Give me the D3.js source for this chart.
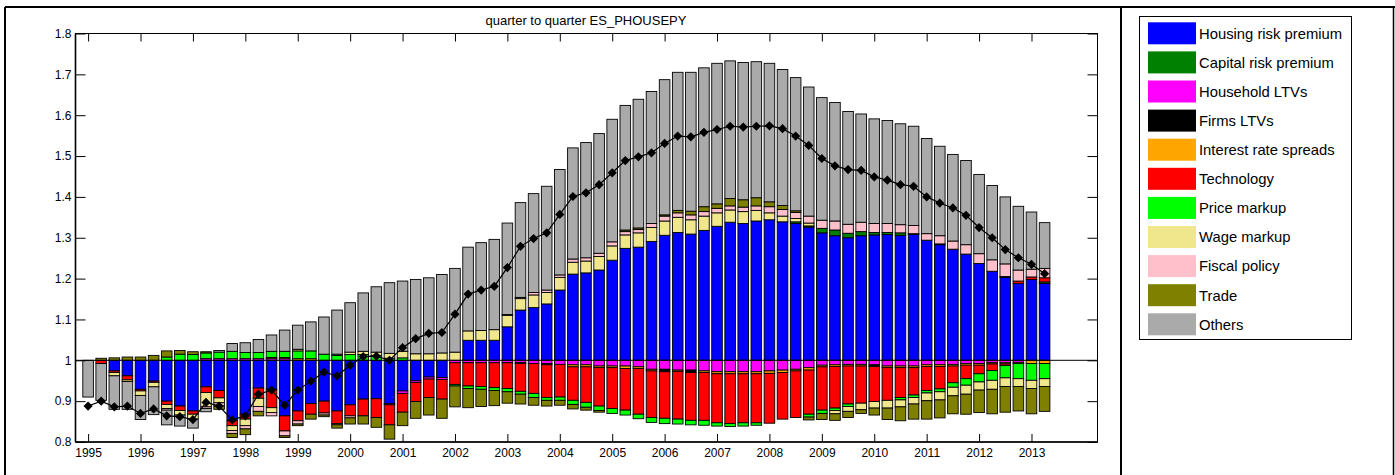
<!DOCTYPE html>
<html>
<head>
<meta charset="utf-8">
<script src="https://cdn.jsdelivr.net/npm/d3@7"></script>
<style>
  html, body { margin: 0; padding: 0; background: #fff; }
  svg { display: block; font-family: "Liberation Sans", Arial, sans-serif; }
</style>
</head>
<body>
<svg id="chart" width="1395" height="475"></svg>
<script>
// ---------------- DATA ----------------
const title = "quarter to quarter ES_PHOUSEPY";
const yearLabels = [1995,1996,1997,1998,1999,2000,2001,2002,2003,2004,2005,2006,2007,2008,2009,2010,2011,2012,2013];
const yTicks = [0.8,0.9,1,1.1,1.2,1.3,1.4,1.5,1.6,1.7,1.8];
const seriesNames = ["Housing risk premium","Capital risk premium","Household LTVs","Firms LTVs","Interest rate spreads","Technology","Price markup","Wage markup","Fiscal policy","Trade","Others"];
const seriesColors = ["#0000FF","#008000","#FF00FF","#000000","#FFA500","#FF0000","#00FF00","#F0E68C","#FFC0CB","#808000","#AAAAAA"];

// quarters 1995Q1 .. 2013Q2 (74), contributions relative to 1
const housing = [0,0,-.026,-.038,-.071,-.051,-.1,-.112,-.124,-.065,-.074,-.148,-.132,-.068,-.071,-.136,-.124,-.106,-.1,-.124,-.109,-.095,-.094,-.106,-.075,-.05,-.041,-.042,0,.049,.049,.049,.082,.123,.129,.138,.172,.211,.214,.221,.245,.274,.277,.291,.306,.313,.309,.318,.328,.338,.335,.341,.344,.339,.335,.326,.312,.305,.300,.305,.307,.308,.306,.308,.294,.283,.272,.260,.237,.218,.203,.188,.198,.188];
const capital = [0,0,0,0,0,0,0,0,0,0,0,0,0,0,0,0,0,0,0,0,0,0,0,0,0,0,0,0,0,0,0,0,0,0,0,0,0,0,0,0,0,0,0,0,0,0,0,0,0,0,0,0,0,0,.004,.003,.011,.014,.011,.010,.006,.005,.006,.002,0,0,0,0,0,0,0,0,0,.004];
const household = [0,0,0,0,0,0,0,0,0,.004,.004,.004,.004,.004,.004,.004,0,0,0,0,0,0,0,-.003,-.006,-.004,-.005,-.005,-.006,-.006,-.006,-.006,-.006,-.006,-.008,-.008,-.01,-.011,-.011,-.014,-.014,-.014,-.016,-.022,-.022,-.024,-.024,-.026,-.028,-.028,-.028,-.028,-.026,-.024,-.022,-.018,-.012,-.011,-.01,-.01,-.011,-.014,-.014,-.014,-.011,-.011,-.01,-.008,-.008,-.006,-.006,-.005,0,0];
const firms = [0,0,0,0,0,0,0,0,0,0,0,0,0,0,0,0,0,0,0,0,0,0,0,0,0,0,0,0,0,0,0,0,0,-.002,0,-.003,0,0,0,0,0,0,0,0,-.006,0,-.006,0,0,0,0,0,0,0,0,0,0,0,0,0,-.004,0,0,0,0,.002,0,0,0,0,.002,0,0,0];
const spreads = [0,0,0,0,0,0,0,0,0,0,0,0,0,0,.003,.003,.004,.004,0,0,0,0,0,0,0,0,0,0,0,0,0,0,0,0,0,0,0,-.005,-.005,-.004,-.004,-.006,-.004,-.004,0,-.003,0,-.004,-.005,-.005,-.005,-.005,-.006,-.006,-.004,-.006,-.004,-.004,-.004,-.004,0,-.004,-.004,-.004,-.004,-.004,-.004,-.004,-.004,-.003,-.003,-.003,-.008,-.008];
const technology = [0,-.008,-.004,-.01,-.004,-.003,-.008,-.011,-.008,-.014,-.018,-.012,-.012,-.025,-.045,-.037,-.024,-.026,-.029,-.031,-.027,-.041,-.046,-.049,-.046,-.047,-.045,-.048,-.053,-.057,-.058,-.061,-.063,-.068,-.073,-.08,-.08,-.082,-.087,-.094,-.1,-.102,-.112,-.114,-.114,-.117,-.117,-.117,-.12,-.122,-.12,-.12,-.122,-.114,-.114,-.108,-.106,-.102,-.093,-.091,-.086,-.08,-.073,-.067,-.059,-.055,-.041,-.033,-.021,-.016,-.004,.006,.006,.01];
const priceMarkup = [0,0,0,0,0,0,.008,.015,.014,.014,.016,.018,.015,.015,.015,.015,.019,.019,.015,.012,.014,.014,.012,.005,.006,0,0,0,-.004,-.006,-.007,-.007,-.008,-.007,-.01,-.007,-.008,-.01,-.012,-.011,-.012,-.012,-.011,-.012,-.013,-.012,-.011,-.012,-.008,-.007,-.008,-.006,0,0,0,-.007,-.008,-.006,-.006,0,0,0,-.006,-.006,-.006,-.007,-.011,-.016,-.02,-.024,-.03,-.037,-.041,-.037];
const wageMarkup = [0,0,-.008,-.004,-.011,-.011,-.01,-.011,-.012,-.035,-.012,-.012,-.016,-.02,-.012,0,.004,0,0,.003,.006,.008,.008,.012,.016,.016,.016,.018,.02,.023,.024,.026,.028,.028,.031,.028,.031,.029,.029,.033,.035,.033,.035,.034,.035,.037,.035,.035,.033,.030,.029,.026,.017,.014,.008,.007,0,-.008,-.012,-.016,-.016,-.019,-.017,-.016,-.019,-.02,-.021,-.022,-.02,-.022,-.021,-.019,-.02,-.019];
const fiscal = [0,0,0,0,0,0,-.004,0,0,-.004,-.008,-.007,-.008,-.012,-.008,-.012,-.008,0,-.005,-.003,-.005,0,0,0,0,0,0,0,0,0,0,0,.002,.003,.006,.006,.006,.008,.008,.008,.01,.008,.008,.01,.012,.011,.012,.011,.011,.01,.011,.011,.015,.016,.015,.017,.02,.022,.022,.023,.022,.022,.02,.02,.016,.02,.02,.023,.024,.028,.031,.027,.019,.023];
const trade = [0,.005,.006,.008,.008,.012,.015,.009,.007,.003,-.008,-.01,-.014,-.011,0,-.004,-.004,-.012,-.004,-.008,-.015,-.02,-.024,-.035,-.033,-.041,-.043,-.047,-.051,-.047,-.042,-.037,-.028,-.024,-.019,-.014,-.012,-.011,-.007,-.004,0,.004,.004,0,.003,.006,.009,.012,.011,.018,.018,.020,.012,.010,.004,-.007,-.015,-.016,-.015,-.009,-.017,-.028,-.034,-.037,-.045,-.044,-.044,-.049,-.055,-.06,-.063,-.06,-.062,-.061];
const others = [-.09,-.09,-.082,-.068,-.059,-.068,-.036,-.027,-.022,-.008,.004,.019,.024,.032,.040,.052,.059,.071,.091,.108,.121,.143,.160,.173,.172,.182,.186,.192,.205,.205,.215,.221,.224,.232,.242,.254,.258,.272,.282,.293,.300,.305,.315,.323,.331,.338,.340,.340,.344,.337,.336,.333,.339,.333,.326,.316,.300,.290,.276,.265,.256,.252,.247,.243,.233,.219,.212,.206,.194,.182,.164,.156,.140,.112];
// total (line with diamonds)
const total = [.888,.900,.886,.888,.870,.881,.864,.862,.855,.897,.888,.854,.864,.917,.927,.890,.927,.949,.971,.962,.988,1.009,1.010,1.000,1.031,1.053,1.066,1.068,1.113,1.162,1.172,1.181,1.227,1.279,1.298,1.312,1.357,1.401,1.410,1.430,1.459,1.489,1.498,1.508,1.531,1.549,1.547,1.558,1.565,1.573,1.571,1.573,1.574,1.567,1.549,1.526,1.494,1.476,1.467,1.465,1.449,1.441,1.430,1.426,1.400,1.385,1.373,1.355,1.325,1.300,1.271,1.251,1.235,1.212];
const baseline = 1;

// ---------------- BUILD ----------------
const seriesArrays = [housing, capital, household, firms, spreads, technology, priceMarkup, wageMarkup, fiscal, trade, others];
const N = total.length;
const rows = d3.range(N).map(i => {
  const r = { idx: i + 1 };
  seriesNames.forEach((n, k) => r[n] = seriesArrays[k][i]);
  return r;
});

const svg = d3.select("#chart");
const L = 75.5, R = 1097.5, T = 33.5, B = 442;

const x = d3.scaleLinear().domain([0, 78]).range([75, 1097]);
const y = d3.scaleLinear().domain([0.8, 1.8]).range([B, T]);
const bw = 10.6;

// frame
svg.append("line").attr("x1", 5).attr("x2", 1395).attr("y1", 7).attr("y2", 7).attr("stroke", "#000").attr("stroke-width", 2);
svg.append("line").attr("x1", 5).attr("x2", 5).attr("y1", 7).attr("y2", 475).attr("stroke", "#000").attr("stroke-width", 2);
svg.append("line").attr("x1", 1121).attr("x2", 1121).attr("y1", 7).attr("y2", 475).attr("stroke", "#000").attr("stroke-width", 2);
svg.append("line").attr("x1", 1393.5).attr("x2", 1393.5).attr("y1", 7).attr("y2", 475).attr("stroke", "#000").attr("stroke-width", 1.5);

// title
svg.append("text").attr("x", 586).attr("y", 25).attr("text-anchor", "middle")
  .attr("font-size", 13).attr("fill", "#000").text(title);

// stacked bars
const stack = d3.stack().keys(seriesNames).offset(d3.stackOffsetDiverging);
const layers = stack(rows);
const gBars = svg.append("g");
layers.forEach((layer, k) => {
  gBars.append("g").selectAll("rect")
    .data(layer.filter(d => d[1] - d[0] !== 0))
    .join("rect")
    .attr("x", d => x(d.data.idx) - bw / 2)
    .attr("width", bw)
    .attr("y", d => y(baseline + d[1]))
    .attr("height", d => y(baseline + d[0]) - y(baseline + d[1]))
    .attr("fill", seriesColors[k])
    .attr("stroke", "#000")
    .attr("stroke-width", 0.9);
});

// baseline line at 1
svg.append("line").attr("x1", L).attr("x2", R).attr("y1", y(1)).attr("y2", y(1))
  .attr("stroke", "#000").attr("stroke-width", 1);

// total line with diamonds
const lineGen = d3.line().x((d, i) => x(i + 1)).y(d => y(d));
svg.append("path").datum(total).attr("d", lineGen).attr("fill", "none")
  .attr("stroke", "#000").attr("stroke-width", 1.2);
const r = 4.6;
svg.append("g").selectAll("path").data(total).join("path")
  .attr("transform", (d, i) => `translate(${x(i + 1)},${y(d)})`)
  .attr("d", `M0,${-r}L${r},0L0,${r}L${-r},0Z`)
  .attr("fill", "#000");

// axes
const tickIdx = yearLabels.map((yr, k) => 1 + 4 * k);
const fmtYear = d => String(yearLabels[(d - 1) / 4]);

const axL = svg.append("g").attr("transform", `translate(${L},0)`)
  .call(d3.axisLeft(y).tickValues(yTicks).tickFormat(d3.format("")).tickSize(-10).tickPadding(4));
const axR = svg.append("g").attr("transform", `translate(${R},0)`)
  .call(d3.axisRight(y).tickValues(yTicks).tickFormat("").tickSize(-10));
const axB = svg.append("g").attr("transform", `translate(0,${B})`)
  .call(d3.axisBottom(x).tickValues(tickIdx).tickFormat(fmtYear).tickSize(-8).tickPadding(6));
const axT = svg.append("g").attr("transform", `translate(0,${T})`)
  .call(d3.axisTop(x).tickValues(tickIdx).tickFormat("").tickSize(-8));
[axL, axR, axB, axT].forEach(a => {
  a.select(".domain").remove();
  a.selectAll("text").attr("font-size", 12).attr("fill", "#000")
    .attr("font-family", "'Liberation Sans', Arial, sans-serif");
  a.selectAll("line").attr("stroke", "#000");
});

// plot box
svg.append("rect").attr("x", L).attr("y", T).attr("width", R - L).attr("height", B - T)
  .attr("fill", "none").attr("stroke", "#000").attr("stroke-width", 1);
svg.append("line").attr("x1", L).attr("x2", L).attr("y1", T).attr("y2", B).attr("stroke", "#000").attr("stroke-width", 1.6);
svg.append("line").attr("x1", L).attr("x2", R).attr("y1", B).attr("y2", B).attr("stroke", "#000").attr("stroke-width", 1.6);

// legend
const lg = svg.append("g");
lg.append("rect").attr("x", 1139.5).attr("y", 16.5).attr("width", 212).attr("height", 323)
  .attr("fill", "#fff").attr("stroke", "#000").attr("stroke-width", 1);
seriesNames.forEach((n, k) => {
  const cy = 33.3 + k * 29.1;
  lg.append("rect").attr("x", 1148).attr("y", cy - 11).attr("width", 48).attr("height", 22)
    .attr("fill", seriesColors[k]);
  lg.append("text").attr("x", 1199).attr("y", cy).attr("dy", "0.36em")
    .attr("font-size", 14.8).attr("fill", "#000").text(n);
});
</script>
</body>
</html>
